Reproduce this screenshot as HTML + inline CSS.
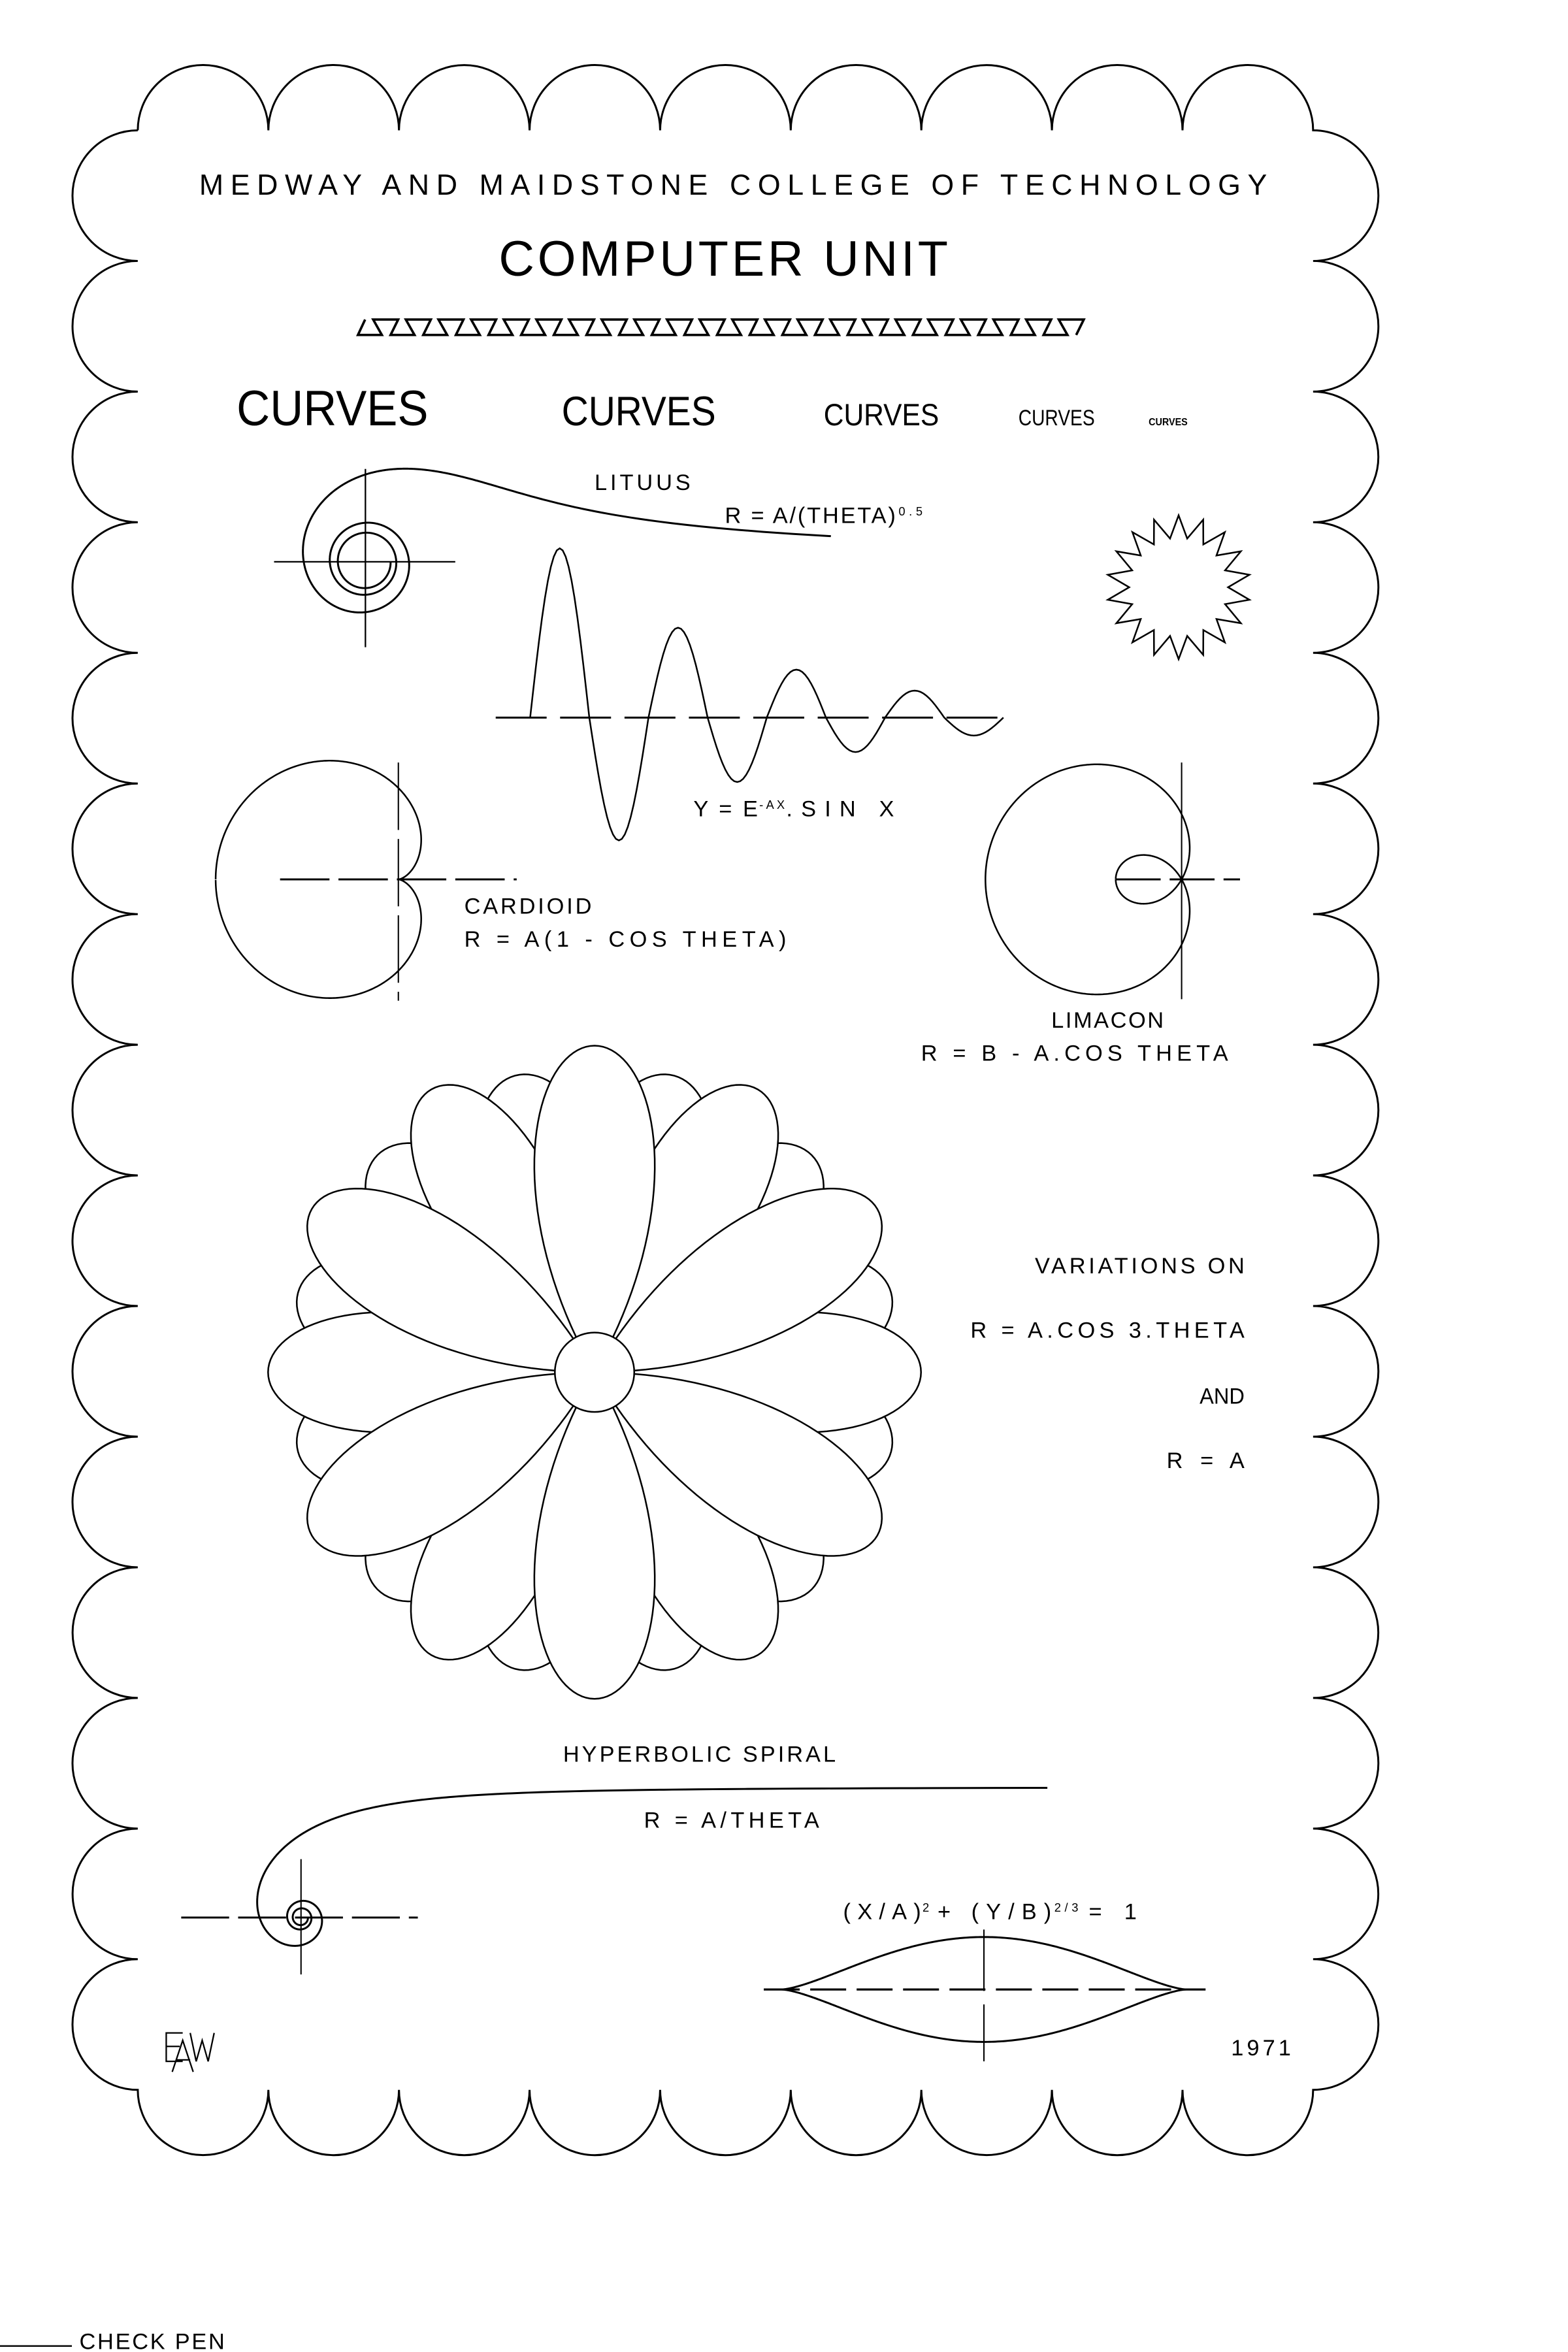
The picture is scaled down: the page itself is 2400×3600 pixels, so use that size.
<!DOCTYPE html>
<html>
<head>
<meta charset="utf-8">
<style>
html,body{margin:0;padding:0;background:#fff;}
svg{display:block;}
text{font-family:"Liberation Sans",sans-serif;fill:#000;}
</style>
</head>
<body>
<svg id="chart" xmlns="http://www.w3.org/2000/svg" width="2400" height="3600" viewBox="0 0 1047 1570" preserveAspectRatio="none">
<rect x="0" y="0" width="1047" height="1570" fill="#fff"/>
<g id="border"></g>
<g id="texts">
  <text x="133" y="130" font-size="19.5" textLength="713" lengthAdjust="spacing">MEDWAY  AND  MAIDSTONE  COLLEGE  OF  TECHNOLOGY</text>
  <text x="333" y="184" font-size="33" textLength="300" lengthAdjust="spacing">COMPUTER  UNIT</text>
  <text x="158" y="284" font-size="33" textLength="128" lengthAdjust="spacingAndGlyphs">CURVES</text>
  <text x="375" y="284" font-size="27.5" textLength="103" lengthAdjust="spacingAndGlyphs">CURVES</text>
  <text x="550" y="284" font-size="20.5" textLength="77" lengthAdjust="spacingAndGlyphs">CURVES</text>
  <text x="680" y="284" font-size="15" textLength="51" lengthAdjust="spacingAndGlyphs">CURVES</text>
  <text x="767" y="284" font-size="7" textLength="26" lengthAdjust="spacingAndGlyphs" font-weight="bold">CURVES</text>
  <text x="397" y="327" font-size="15" textLength="64" lengthAdjust="spacing">LITUUS</text>
  <text x="484" y="349" font-size="15" textLength="114" lengthAdjust="spacing">R = A/(THETA)</text>
  <text x="600" y="344" font-size="8" textLength="16" lengthAdjust="spacing">0.5</text>
  <text x="463" y="545" font-size="15" textLength="43" lengthAdjust="spacing">Y = E</text>
  <text x="507" y="540" font-size="8" textLength="17" lengthAdjust="spacing">-AX</text>
  <text x="525" y="545" font-size="15" textLength="72" lengthAdjust="spacing">.SIN X</text>
  <text x="310" y="610" font-size="15" textLength="85" lengthAdjust="spacing">CARDIOID</text>
  <text x="310" y="632" font-size="15" textLength="215" lengthAdjust="spacing">R = A(1 - COS THETA)</text>
  <text x="702" y="686" font-size="15" textLength="75" lengthAdjust="spacing">LIMACON</text>
  <text x="615" y="708" font-size="15" textLength="205" lengthAdjust="spacing">R = B - A.COS THETA</text>
  <text x="691" y="850" font-size="15" textLength="140" lengthAdjust="spacing">VARIATIONS ON</text>
  <text x="648" y="893" font-size="15" textLength="183" lengthAdjust="spacing">R = A.COS 3.THETA</text>
  <text x="801" y="937" font-size="15" textLength="30" lengthAdjust="spacingAndGlyphs">AND</text>
  <text x="779" y="980" font-size="15" textLength="52" lengthAdjust="spacing">R = A</text>
  <text x="376" y="1176" font-size="15" textLength="182" lengthAdjust="spacing">HYPERBOLIC SPIRAL</text>
  <text x="430" y="1220" font-size="15" textLength="117" lengthAdjust="spacing">R = A/THETA</text>
  <text x="563" y="1281" font-size="15" textLength="52" lengthAdjust="spacing">(X/A)</text>
  <text x="616" y="1276" font-size="8" textLength="6" lengthAdjust="spacing">2</text>
  <text x="626" y="1281" font-size="15" textLength="76" lengthAdjust="spacing">+ (Y/B)</text>
  <text x="704" y="1276" font-size="8" textLength="16" lengthAdjust="spacing">2/3</text>
  <text x="727" y="1281" font-size="15" textLength="32" lengthAdjust="spacing">= 1</text>
  <text x="822" y="1372" font-size="15" textLength="40" lengthAdjust="spacing">1971</text>
  <text x="53" y="1568" font-size="15" textLength="97" lengthAdjust="spacing">CHECK PEN</text>
</g>
<g fill="none" stroke="#000" stroke-width="1">
  <path d="M122 1357 H111 V1376 H122 M111 1366 H120"/>
  <path d="M115 1383 L122 1362 L129 1383 M118 1375 H127"/>
  <path d="M127 1357 L131 1376 L135 1362 L139 1376 L143 1357"/>
</g>
<line x1="0" y1="1566" x2="48" y2="1566" stroke="#000" stroke-width="1"/>
<g id="marks" fill="none" stroke="#000" stroke-width="1.3"></g>
</svg>
<script>
// ---- data arrays ----
var borderTopCount = [9];
var borderSideCount = [15];
var dampedHalfAmps = [113, 82, 60, 43, 32, 23, 18, 12];
var starPointCount = [18];
var starRadii = [48, 33];
var flowerFrontAngles = [30, 90, 150, 210, 270, 330];
var flowerBackAngles = [0, 60, 120, 180, 240, 300];
var flowerLobeAngles = [15, 45, 75, 105, 135, 165, 195, 225, 255, 285, 315, 345];
var flowerLengths = [218, 218, 205];
var lituusA = [73];
var hyperbolicA = [87];
var cardioidA = [61];
var limaconBA = [43.5, 87.5];
var lensAB = [135, 35];

var NS = "http://www.w3.org/2000/svg";
var marks = document.getElementById("marks");
var borderG = document.getElementById("border");

function mk(tag, parent, attrs) {
  var e = document.createElementNS(NS, tag);
  for (var k in attrs) e.setAttribute(k, attrs[k]);
  parent.appendChild(e);
  return e;
}
function pts2d(arr) {
  var s = "";
  for (var i = 0; i < arr.length; i++) s += (i ? "L" : "M") + arr[i][0].toFixed(2) + " " + arr[i][1].toFixed(2);
  return s;
}

// ---- border ----
(function () {
  var w = 87.2, r = w / 2, x0 = 92, y0 = 87;
  var nT = borderTopCount[0], nS = borderSideCount[0];
  var d = "M" + x0 + " " + y0;
  for (var i = 0; i < nT; i++) d += "a" + r + " " + r + " 0 0 1 " + w + " 0";
  for (var i = 0; i < nS; i++) d += "a" + r + " " + r + " 0 0 1 0 " + w;
  for (var i = 0; i < nT; i++) d += "a" + r + " " + r + " 0 0 1 " + (-w) + " 0";
  for (var i = 0; i < nS; i++) d += "a" + r + " " + r + " 0 0 1 0 " + (-w);
  var p = mk("path", borderG, {d: d, fill: "none", stroke: "#000", "stroke-width": 1.3});
  
  
})();

// ---- zigzag ----
(function () {
  var p = 21.8, b = 239, top = 213.3, bot = 223.6, n = 22;
  var a = [[b + 0.22 * p, top], [b, bot]];
  for (var k = 0; k < n; k++) {
    var x = b + k * p;
    a.push([x + 0.733 * p, bot]);
    a.push([x + 0.467 * p, top]);
    a.push([x + 1.233 * p, top]);
    a.push([x + p, bot]);
  }
  var e = mk("path", marks, {d: pts2d(a), "stroke-width": 1.6});
  
  
})();

// ---- lituus ----
(function () {
  var cx = 244, cy = 375, A = lituusA[0], a = [];
  for (var t = 0.055; t <= 6 * Math.PI; t += 0.01) {
    var r = A / Math.sqrt(t);
    a.push([cx + r * Math.cos(t), cy - r * Math.sin(t)]);
  }
  var e = mk("path", marks, {d: pts2d(a)});
  
  
  var h = mk("line", marks, {x1: 183, y1: cy, x2: 304, y2: cy, "stroke-width": 1});
  
  
  var v = mk("line", marks, {x1: cx, y1: 313, x2: cx, y2: 432, "stroke-width": 1});
  
  
})();

// ---- star ----
(function () {
  var cx = 787, cy = 392, n = starPointCount[0], a = [];
  for (var i = 0; i <= 2 * n; i++) {
    var ang = Math.PI / 2 - i * Math.PI / n;
    var r = (i % 2 === 0) ? starRadii[0] : starRadii[1];
    a.push([cx + r * Math.cos(ang), cy - r * Math.sin(ang)]);
  }
  var e = mk("path", marks, {d: pts2d(a) + "Z", "stroke-width": 1.1});
  
  
})();

// ---- damped sine ----
(function () {
  var x0 = 354, hp = 39.5, ay = 479, a = [];
  for (var i = 0; i < dampedHalfAmps.length; i++) {
    var sgn = (i % 2 === 0) ? 1 : -1;
    for (var s = 0; s <= 20; s++) {
      var t = s / 20;
      a.push([x0 + (i + t) * hp, ay - sgn * dampedHalfAmps[i] * Math.sin(Math.PI * t)]);
    }
  }
  var e = mk("path", marks, {d: pts2d(a), "stroke-width": 1.1});
  
  
  var ax = mk("line", marks, {x1: 331, y1: ay, x2: 670, y2: ay, "stroke-dasharray": "34 9", "stroke-width": 1.3});
  
  
})();

// ---- cardioid ----
(function () {
  var cx = 266, cy = 587, A = cardioidA[0], a = [];
  for (var t = 0; t <= 2 * Math.PI + 0.001; t += 0.01) {
    var r = A * (1 + Math.cos(t));
    a.push([cx - r * Math.cos(t), cy - r * Math.sin(t)]);
  }
  var e = mk("path", marks, {d: pts2d(a), "stroke-width": 1.1});
  
  
  var h = mk("line", marks, {x1: 187, y1: cy, x2: 345, y2: cy, "stroke-dasharray": "33 6", "stroke-width": 1.3});
  
  
  var v = mk("line", marks, {x1: cx, y1: 509, x2: cx, y2: 668, "stroke-dasharray": "45 6", "stroke-width": 0.9});
  
  
})();

// ---- limacon ----
(function () {
  var cx = 789, cy = 587, B = limaconBA[0], A = limaconBA[1], a = [];
  for (var t = 0; t <= 2 * Math.PI + 0.001; t += 0.01) {
    var r = B - A * Math.cos(t);
    a.push([cx + r * Math.cos(t), cy - r * Math.sin(t)]);
  }
  var e = mk("path", marks, {d: pts2d(a), "stroke-width": 1.1});
  
  
  var h = mk("line", marks, {x1: 745, y1: cy, x2: 828, y2: cy, "stroke-dasharray": "30 6", "stroke-width": 1.3});
  
  
  var v = mk("line", marks, {x1: cx, y1: 509, x2: cx, y2: 667, "stroke-width": 0.9});
  
  
})();

// ---- flower ----
(function () {
  var cx = 397, cy = 916;
  function petal(angDeg, L, k) {
    var a = [], base = angDeg * Math.PI / 180, lim = Math.PI / (2 * k);
    for (var s = 0; s <= 80; s++) {
      var ph = -lim + 2 * lim * s / 80;
      var r = L * Math.cos(k * ph);
      a.push([cx + r * Math.cos(base + ph), cy - r * Math.sin(base + ph)]);
    }
    return pts2d(a) + "Z";
  }
  for (var i = 0; i < flowerLobeAngles.length; i++) {
    var e = mk("path", marks, {d: petal(flowerLobeAngles[i], flowerLengths[2], 2.7), fill: "#fff", "stroke-width": 1.1});
    
    
  }
  for (var i = 0; i < flowerBackAngles.length; i++) {
    var e2 = mk("path", marks, {d: petal(flowerBackAngles[i], flowerLengths[1], 3), fill: "#fff", "stroke-width": 1.1});
    
    
  }
  for (var i = 0; i < flowerFrontAngles.length; i++) {
    var e3 = mk("path", marks, {d: petal(flowerFrontAngles[i], flowerLengths[0], 3), fill: "#fff", "stroke-width": 1.1});
    
    
  }
  var c = mk("circle", marks, {cx: cx, cy: cy, r: 26.5, fill: "#fff", "stroke-width": 1.1});
  
  
})();

// ---- hyperbolic spiral ----
(function () {
  var cx = 201, cy = 1280, A = hyperbolicA[0], a = [];
  for (var t = 0.172; t <= 6 * Math.PI; t += 0.01) {
    var r = A / t;
    a.push([cx + r * Math.cos(t), cy - r * Math.sin(t)]);
  }
  var e = mk("path", marks, {d: pts2d(a)});
  
  
  var h = mk("line", marks, {x1: 121, y1: cy, x2: 279, y2: cy, "stroke-dasharray": "32 6", "stroke-width": 1.3});
  
  
  var v = mk("line", marks, {x1: cx, y1: 1241, x2: cx, y2: 1318, "stroke-width": 0.9});
  
  
})();

// ---- lens (x/a)^2 + (y/b)^(2/3) = 1 ----
(function () {
  var cx = 657, cy = 1328, A = lensAB[0], B = lensAB[1], a = [];
  for (var t = 0; t <= 2 * Math.PI + 0.001; t += 0.01) {
    var s = Math.sin(t);
    a.push([cx + A * Math.cos(t), cy - B * s * s * s]);
  }
  var e = mk("path", marks, {d: pts2d(a)});
  
  
  var h = mk("line", marks, {x1: 510, y1: cy, x2: 805, y2: cy, "stroke-dasharray": "24 7", "stroke-width": 1.4});
  
  
  var v1 = mk("line", marks, {x1: cx, y1: 1288, x2: cx, y2: 1329, "stroke-width": 0.9});
  
  
  var v2 = mk("line", marks, {x1: cx, y1: 1338, x2: cx, y2: 1376, "stroke-width": 0.9});
  
  
})();
</script>
</body>
</html>
